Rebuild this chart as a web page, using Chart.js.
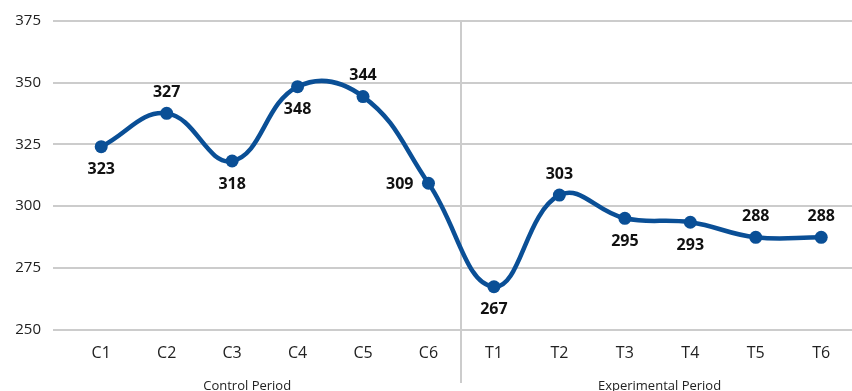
<!DOCTYPE html>
<html>
<head>
<meta charset="utf-8">
<script src="https://cdn.jsdelivr.net/npm/chart.js@4"></script>
<style>
  html, body { margin: 0; padding: 0; background: #ffffff; }
  #wrap { width: 852px; height: 391px; position: relative; }
</style>
</head>
<body>
<div id="wrap"><canvas id="c" width="852" height="391"></canvas></div>
<script>
// ---- data ----
const categories = ["C1","C2","C3","C4","C5","C6","T1","T2","T3","T4","T5","T6"];
const values = [324.1, 337.6, 318.3, 348.4, 344.4, 309.3, 267.4, 304.5, 295.1, 293.5, 287.4, 287.4];
const valueLabels = ["323","327","318","348","344","309","267","303","295","293","288","288"];
const labelPlacement = ["below","above","below","below","above","left","below","above","below","below","above","above"];
const groupNames = ["Control Period", "Experimental Period"];
const groupCenters = [2.23, 8.53];
const dividerAt = 5.5;
const yTicks = [250, 275, 300, 325, 350, 375];

const BLUE = "#0a4f96";
const GRID = "#cccccc";
const FONT = "'Open Sans', 'Noto Sans', sans-serif";

const points = values.map((v, i) => ({ x: i, y: v }));

const overlay = {
  id: 'overlay',
  beforeDatasetsDraw(chart) {
    const ctx = chart.ctx, xs = chart.scales.x, ys = chart.scales.y, area = chart.chartArea;
    ctx.save();
    ctx.strokeStyle = GRID;
    ctx.lineWidth = 2;
    // extend horizontal grid lines to the right edge of the canvas
    yTicks.forEach(t => {
      const y = Math.round(ys.getPixelForValue(t));
      ctx.beginPath();
      ctx.moveTo(area.right - 1, y);
      ctx.lineTo(chart.width, y);
      ctx.stroke();
    });
    // divider between the two periods
    const px = Math.round(xs.getPixelForValue(dividerAt));
    ctx.beginPath();
    ctx.moveTo(px, area.top);
    ctx.lineTo(px, 383);
    ctx.stroke();
    ctx.restore();
  },
  afterDatasetsDraw(chart) {
    const ctx = chart.ctx, xs = chart.scales.x, ys = chart.scales.y;
    ctx.save();
    ctx.fillStyle = "#111111";
    ctx.font = "bold 16px " + FONT;
    values.forEach((v, i) => {
      const x = xs.getPixelForValue(i), y = ys.getPixelForValue(v);
      const p = labelPlacement[i];
      ctx.textBaseline = 'middle';
      if (p === 'above') { ctx.textAlign = 'center'; ctx.fillText(valueLabels[i], x, y - 21); }
      else if (p === 'below') { ctx.textAlign = 'center'; ctx.fillText(valueLabels[i], x, y + 23); }
      else { ctx.textAlign = 'right'; ctx.fillText(valueLabels[i], x - 15, y + 1); }
    });
    ctx.font = "13px " + FONT;
    ctx.fillStyle = "#222222";
    ctx.textAlign = 'center';
    ctx.textBaseline = 'middle';
    groupNames.forEach((g, k) => {
      ctx.fillText(g, xs.getPixelForValue(groupCenters[k]), 386);
    });
    ctx.restore();
  }
};

new Chart(document.getElementById('c'), {
  type: 'line',
  data: {
    datasets: [{
      data: points,
      borderColor: BLUE,
      backgroundColor: BLUE,
      borderWidth: 4.5,
      pointRadius: 6.5,
      pointBackgroundColor: BLUE,
      pointBorderWidth: 0,
      tension: 0.42,
      fill: false,
      clip: false
    }]
  },
  options: {
    responsive: false,
    animation: false,
    devicePixelRatio: 1,
    layout: { padding: { left: 0, right: 0, top: 21, bottom: 0 } },
    plugins: { legend: { display: false }, tooltip: { enabled: false } },
    scales: {
      x: {
        type: 'linear',
        min: -0.7365,
        max: 11.371,
        grid: { display: false, drawTicks: false },
        border: { display: false },
        afterBuildTicks(scale) {
          scale.ticks = categories.map((c, i) => ({ value: i }));
        },
        afterFit(scale) { scale.height = 61.3; },
        ticks: {
          includeBounds: false,
          autoSkip: false,
          maxRotation: 0,
          padding: 14,
          color: "#222222",
          font: { family: FONT, size: 16 },
          callback: (v) => categories[v] ?? ''
        }
      },
      y: {
        min: 250,
        max: 375,
        afterBuildTicks(scale) {
          scale.ticks = yTicks.map(v => ({ value: v }));
        },
        afterFit(scale) { scale.width = 53; },
        grid: { color: GRID, lineWidth: 2, drawTicks: false },
        border: { display: false },
        ticks: {
          padding: 12,
          color: "#222222",
          font: { family: FONT, size: 15 }
        }
      }
    }
  },
  plugins: [overlay]
});
</script>
</body>
</html>
